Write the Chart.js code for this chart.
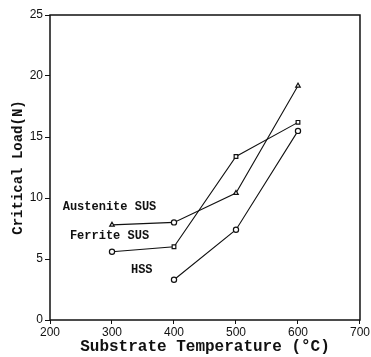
<!DOCTYPE html>
<html>
<head>
<meta charset="utf-8">
<script src="https://cdn.jsdelivr.net/npm/chart.js@4"></script>
<style>
  body { margin: 0; background: #fff; }
</style>
</head>
<body>
<canvas id="load" width="371" height="357"></canvas>
<script>
// substrate temperatures (°C)
const tempAustenite = [300, 400, 500, 600];
const tempFerrite = [300, 400, 500, 600];
const tempHSS = [400, 500, 600];

// critical load values (N)
const loadAustenite = [7.8, 8.0, 10.4, 19.2];
const loadFerrite = [5.6, 6.0, 13.4, 16.2];
const loadHSS = [3.3, 7.4, 15.5];

// marker shapes as drawn in the figure
const markAustenite = ['triangle', 'circle', 'triangle', 'triangle'];
const markFerrite = ['circle', 'rect', 'rect', 'rect'];
const markHSS = ['circle', 'circle', 'circle'];

const yTicks = [0, 5, 10, 15, 20, 25];
const xTicks = [200, 300, 400, 500, 600, 700];

// curve labels placed in data units
const curveLabels = [
  { text: 'Austenite SUS', x: 296, y: 9.25 },
  { text: 'Ferrite SUS', x: 296, y: 6.85 },
  { text: 'HSS', x: 348, y: 4.1 }
];

function pts(xs, ys) {
  return xs.map((x, i) => ({ x: x, y: ys[i] }));
}

function series(label, xs, ys, marks) {
  return {
    label: label,
    data: pts(xs, ys),
    borderColor: '#111',
    borderWidth: 1.1,
    backgroundColor: '#fff',
    pointStyle: marks,
    pointRadius: 2.6,
    pointBorderWidth: 1.2,
    pointBorderColor: '#111',
    pointBackgroundColor: '#fff',
    tension: 0
  };
}

// frame + in-plot labels
const framePlugin = {
  id: 'frame',
  afterDraw(chart) {
    const ctx = chart.ctx;
    const a = chart.chartArea;
    const xs = chart.scales.x, ys = chart.scales.y;
    ctx.save();
    ctx.strokeStyle = '#111';
    ctx.lineWidth = 1.5;
    ctx.strokeRect(a.left, a.top, a.right - a.left, a.bottom - a.top);
    ctx.fillStyle = '#111';
    ctx.font = 'bold 12px "Liberation Mono"';
    ctx.textAlign = 'center';
    ctx.textBaseline = 'middle';
    curveLabels.forEach(l => {
      ctx.fillText(l.text, xs.getPixelForValue(l.x), ys.getPixelForValue(l.y));
    });
    ctx.restore();
  }
};

new Chart(document.getElementById('load'), {
  type: 'line',
  data: {
    datasets: [
      series('Austenite SUS', tempAustenite, loadAustenite, markAustenite),
      series('Ferrite SUS', tempFerrite, loadFerrite, markFerrite),
      series('HSS', tempHSS, loadHSS, markHSS)
    ]
  },
  options: {
    responsive: false,
    animation: false,
    layout: { padding: { top: 15, right: 10, left: 0, bottom: 0 } },
    plugins: {
      legend: { display: false },
      tooltip: { enabled: false }
    },
    scales: {
      x: {
        type: 'linear',
        min: 200,
        max: 700,
        afterBuildTicks: s => { s.ticks = xTicks.map(v => ({ value: v })); },
        afterFit: s => { s.height = 37; },
        grid: { drawOnChartArea: false, drawTicks: true, tickLength: 4, color: '#111' },
        border: { display: false },
        ticks: {
          color: '#111',
          padding: 1,
          maxRotation: 0,
          font: { family: 'Liberation Sans', size: 12 }
        },
        title: {
          display: true,
          text: 'Substrate Temperature (°C)',
          color: '#111',
          padding: 0,
          font: { family: 'Liberation Mono', size: 16, weight: 'bold' }
        }
      },
      y: {
        min: 0,
        max: 25,
        afterBuildTicks: s => { s.ticks = yTicks.map(v => ({ value: v })); },
        afterFit: s => { s.width = 50; },
        grid: { drawOnChartArea: false, drawTicks: true, tickLength: 5, color: '#111' },
        border: { display: false },
        ticks: {
          color: '#111',
          padding: 2,
          font: { family: 'Liberation Sans', size: 12 }
        },
        title: {
          display: true,
          text: 'Critical Load(N)',
          color: '#111',
          padding: { top: 10, bottom: 0 },
          font: { family: 'Liberation Mono', size: 14, weight: 'bold' }
        }
      }
    }
  },
  plugins: [framePlugin]
});
</script>
</body>
</html>
